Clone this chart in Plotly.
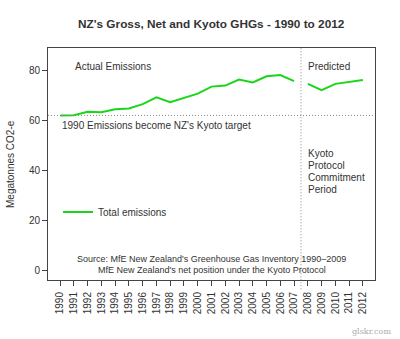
import plotly.graph_objects as go

# NZ total greenhouse gas emissions (Mt CO2-e)
actual_years = list(range(1990, 2008))
actual_values = [61.9, 62.0, 63.4, 63.2, 64.4, 64.7, 66.4, 69.1, 67.2, 68.9,
                 70.6, 73.4, 73.8, 76.2, 75.1, 77.5, 78.0, 75.6]
predicted_years = list(range(2008, 2013))
predicted_values = [74.5, 72.0, 74.5, 75.2, 76.0]

kyoto_target = 61.9          # 1990 emissions level
commitment_start = 2007.5    # start of the first commitment period
year_ticks = list(range(1990, 2013))
y_ticks = [0, 20, 40, 60, 80]

W, H = 400, 339
L, R, T, B = 48, 375, 48, 280   # plot area in pixels


def px(x):
    return (x - L) / (R - L)


def py(y):
    return (B - y) / (B - T)


FONT = "Liberation Sans, Arial, sans-serif"
TXT = "#333333"
GREEN = "#19d619"
DOTS = dict(color="#8a8a8a", width=1, dash="1px,2px")

fig = go.Figure()
fig.add_trace(go.Scatter(x=actual_years, y=actual_values, mode="lines",
                         line=dict(color=GREEN, width=2),
                         name="Total emissions", showlegend=True))
fig.add_trace(go.Scatter(x=predicted_years, y=predicted_values, mode="lines",
                         line=dict(color=GREEN, width=2),
                         name="Total emissions", showlegend=False))

# reference lines
fig.add_shape(type="line", xref="paper", yref="y", x0=0, x1=1,
              y0=kyoto_target, y1=kyoto_target, line=DOTS)
fig.add_shape(type="line", xref="x", yref="paper", x0=commitment_start,
              x1=commitment_start, y0=-0.04, y1=1, line=DOTS)


def note(text, x, y, size=10, xanchor="left", **kw):
    fig.add_annotation(text=text, x=px(x), y=py(y), xref="paper", yref="paper",
                       xanchor=xanchor, yanchor="middle", showarrow=False,
                       font=dict(family=FONT, size=size, color=TXT), **kw)


note("Actual Emissions", 73, 66)
note("Predicted", 306, 66)
note("1990 Emissions become NZ's Kyoto target", 60, 125)
for i, word in enumerate(["Kyoto", "Protocol", "Commitment", "Period"]):
    note(word, 306, 153 + 12 * i)
note("Source: MfE New Zealand's Greenhouse Gas Inventory 1990\u20132009", 212, 259,
     size=9, xanchor="center")
note("MfE New Zealand's net position under the Kyoto Protocol", 212, 270,
     size=9, xanchor="center")
note("Megatonnes CO2-e", 10, 164, xanchor="center", textangle=-90)
note("<b>NZ's Gross, Net and Kyoto GHGs - 1990 to 2012</b>", 211, 24,
     size=11.8, xanchor="center")
fig.add_annotation(text="glskr.com", x=px(393), y=py(331), xref="paper",
                   yref="paper", xanchor="right", yanchor="middle",
                   showarrow=False,
                   font=dict(family="DejaVu Serif", size=8, color="#aaaaaa"))

fig.update_layout(
    width=W, height=H,
    margin=dict(l=L, r=W - R, t=T, b=H - B, pad=0),
    paper_bgcolor="white", plot_bgcolor="white",
    font=dict(family=FONT, size=10, color=TXT),
    legend=dict(x=px(58), y=py(212), xanchor="left", yanchor="middle",
                bgcolor="rgba(0,0,0,0)", font=dict(size=10, color=TXT),
                itemwidth=30),
)
fig.update_xaxes(range=[1989.12, 2012.88], tickmode="array", tickvals=year_ticks,
                 ticktext=[str(y) for y in year_ticks], tickangle=-90,
                 ticks="outside", ticklen=5, tickcolor="#444444",
                 ticklabelstandoff=2,
                 showgrid=False, zeroline=False, showline=True, mirror=True,
                 linecolor="#444444", linewidth=1,
                 tickfont=dict(family=FONT, size=10, color=TXT))
fig.update_yaxes(range=[-3.7, 88.8], tickmode="array", tickvals=y_ticks,
                 ticks="outside", ticklen=5, tickcolor="#444444",
                 showgrid=False, zeroline=False, showline=True, mirror=True,
                 linecolor="#444444", linewidth=1,
                 tickfont=dict(family=FONT, size=10, color=TXT))

fig.write_html("out.html")
